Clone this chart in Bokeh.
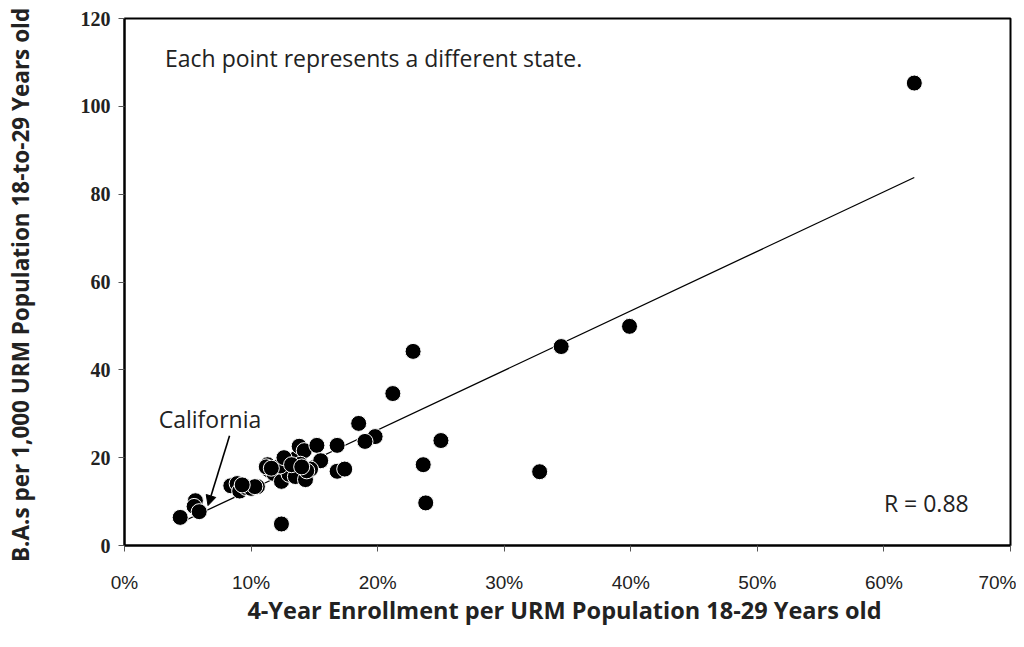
from bokeh.plotting import figure
from bokeh.models import Range1d, FixedTicker, PrintfTickFormatter, Label, Arrow, NormalHead, ColumnDataSource
from bokeh.embed import file_html
from bokeh.resources import INLINE

# 4-year enrollment per URM population (percent) and B.A.s per 1,000 URM population
enroll_pct = [62.4, 39.9, 34.5, 22.8, 21.2, 18.5, 19.8, 19.0, 25.0, 23.6,
              32.8, 23.8, 12.4, 4.4, 5.6, 5.5, 5.9, 8.4, 8.9, 9.1,
              9.6, 10.0, 10.5, 11.3, 11.4, 11.8, 12.5, 12.4, 12.8, 13.0,
              13.5, 13.8, 14.2, 15.2, 15.5, 13.5, 14.3, 14.7, 16.8, 16.8,
              17.4, 13.9, 12.3, 14.4, 12.6, 11.2, 10.3, 9.3, 13.2, 14.0, 11.6]
ba_per_1000 = [105.3, 49.9, 45.3, 44.2, 34.6, 27.8, 24.8, 23.7, 23.9, 18.4,
               16.8, 9.7, 4.9, 6.4, 10.2, 8.9, 7.7, 13.6, 14.1, 12.4,
               13.2, 13.0, 13.4, 18.4, 17.2, 16.4, 19.0, 14.6, 17.4, 16.2,
               19.7, 22.6, 21.6, 22.8, 19.3, 15.7, 15.0, 17.4, 22.8, 16.9,
               17.4, 18.5, 18.1, 17.0, 20.0, 17.9, 13.4, 13.8, 18.4, 17.9, 17.6]
trend_x = [4.5, 62.4]
trend_y = [5.3, 83.8]
x_ticks = [0, 10, 20, 30, 40, 50, 60, 70]
y_ticks = [0, 20, 40, 60, 80, 100, 120]

p = figure(frame_width=886, frame_height=527, output_backend="svg", toolbar_location=None,
           x_range=Range1d(0, 70), y_range=Range1d(0, 120),
           min_border_left=124, min_border_right=6, min_border_top=18, min_border_bottom=85)
p.background_fill_color = "white"
p.border_fill_color = "white"
p.outline_line_color = "black"
p.outline_line_width = 2
p.xgrid.visible = False
p.ygrid.visible = False

p.line(trend_x, trend_y, line_color="black", line_width=1.3)
src = ColumnDataSource(dict(x=enroll_pct, y=ba_per_1000))
p.scatter("x", "y", source=src, size=16, fill_color="black", line_color="white", line_width=1)

p.xaxis.ticker = FixedTicker(ticks=x_ticks)
p.yaxis.ticker = FixedTicker(ticks=y_ticks)
p.xaxis.formatter = PrintfTickFormatter(format="%d%%")
for ax in (p.xaxis[0], p.yaxis[0]):
    ax.axis_line_color = "black"
    ax.axis_line_width = 2
    ax.major_tick_line_color = "#555555"
    ax.major_tick_out = 6
    ax.major_tick_in = 0
    ax.minor_tick_line_color = None

p.xaxis.major_label_text_font = "Liberation Sans"
p.xaxis.major_label_text_font_size = "19px"
p.xaxis.major_label_standoff = 20
p.xaxis.major_label_text_color = "#222222"
p.yaxis.major_label_text_font = "Liberation Serif"
p.yaxis.major_label_text_font_style = "bold"
p.yaxis.major_label_text_font_size = "20px"
p.yaxis.major_label_standoff = 8
p.yaxis.major_label_text_color = "#222222"

p.xaxis.axis_label = "4-Year Enrollment per URM Population  18-29 Years old"
p.yaxis.axis_label = "B.A.s per 1,000 URM Population  18-to-29 Years old"
for ax in (p.xaxis[0], p.yaxis[0]):
    ax.axis_label_text_font = "Open Sans"
    ax.axis_label_text_font_style = "bold"
    ax.axis_label_text_color = "#222222"
p.xaxis.axis_label_text_font_size = "23.5px"
p.yaxis.axis_label_text_font_size = "22.5px"
p.xaxis.axis_label_standoff = -2
p.yaxis.axis_label_standoff = 42

lab_style = dict(text_font="Open Sans", text_font_size="23px", text_color="#222222",
                 text_baseline="middle")
p.add_layout(Label(x=3.2, y=111.1, text="Each point represents a different state.", **lab_style))
p.add_layout(Label(x=60.0, y=9.6, text="R = 0.88", **lab_style))
p.add_layout(Label(x=2.7, y=28.7, text="California", **lab_style))
p.add_layout(Arrow(x_start=8.3, y_start=25.0, x_end=6.6, y_end=9.1, line_width=1.6,
                   line_color="black",
                   end=NormalHead(size=10, fill_color="black", line_color="black")))

open("out.html", "w").write(file_html(p, INLINE))
